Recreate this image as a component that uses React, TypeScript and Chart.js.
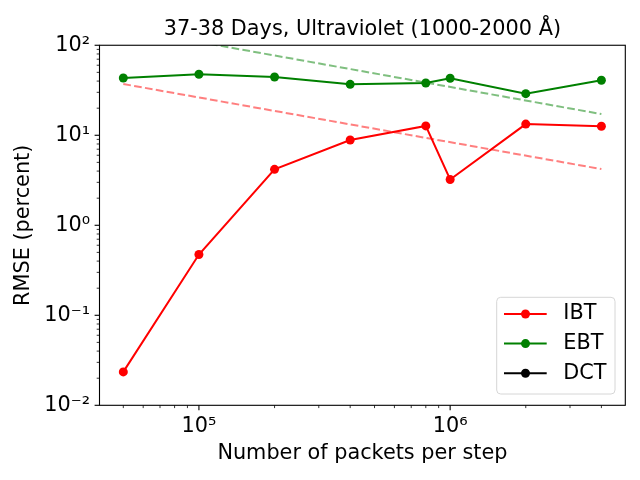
import { useEffect, useRef } from "react";
import { Chart, registerables } from "chart.js";

Chart.register(...registerables);

// packets per step (x) and RMSE in percent (y)
const packets = [5e4, 1e5, 2e5, 4e5, 8e5, 1e6, 2e6, 4e6];
const ibtValues = [0.0235, 0.473, 4.18, 8.85, 12.7, 3.23, 13.3, 12.6];
const ebtValues = [43.3, 47.6, 44.4, 36.8, 38.1, 43.0, 29.0, 40.8];
const dctValues: number[] = [];
const seriesNames = ["IBT", "EBT", "DCT"];
const seriesColors = ["#ff0000", "#008000", "#000000"];

// dashed reference lines, two end points each
const guideX = [5e4, 4e6];
const ibtGuide = [37.1, 4.21];
const ebtGuide = [154, 17.2];

const xTickPowers = [5, 6];
const yTickPowers = [-2, -1, 0, 1, 2];

const FONT = { family: "'DejaVu Sans', sans-serif", size: 20.8 };
const SUP: Record<string, string> = {
  "-": "⁻", "0": "⁰", "1": "¹", "2": "²", "3": "³", "4": "⁴",
  "5": "⁵", "6": "⁶", "7": "⁷", "8": "⁸", "9": "⁹",
};

function powerLabel(v: number, powers: number[]) {
  const p = Math.round(Math.log10(v));
  if (Math.abs(Math.log10(v) - p) > 1e-6 || !powers.includes(p)) return "";
  return "10" + String(p).split("").map((c) => SUP[c]).join("");
}

const pts = (xs: number[], ys: number[]) => ys.map((y, i) => ({ x: xs[i], y }));

const decor = {
  id: "decor",
  afterDraw(chart: any) {
    const { ctx, chartArea: a } = chart;
    ctx.save();
    ctx.strokeStyle = "#000";
    // tick marks, major and minor
    const marks = (scale: any, horiz: boolean) => {
      const lo = Math.floor(Math.log10(scale.min));
      const hi = Math.ceil(Math.log10(scale.max));
      for (let e = lo; e <= hi; e++) {
        for (let k = 1; k <= 9; k++) {
          const v = k * Math.pow(10, e);
          if (v < scale.min * 0.9999 || v > scale.max * 1.0001) continue;
          const p = scale.getPixelForValue(v);
          const len = k === 1 ? 4.9 : 2.8;
          ctx.lineWidth = k === 1 ? 1.1 : 0.8;
          ctx.beginPath();
          if (horiz) {
            ctx.moveTo(p, a.bottom);
            ctx.lineTo(p, a.bottom + len);
          } else {
            ctx.moveTo(a.left, p);
            ctx.lineTo(a.left - len, p);
          }
          ctx.stroke();
        }
      }
    };
    marks(chart.scales.x, true);
    marks(chart.scales.y, false);
    ctx.lineWidth = 1.1;
    ctx.strokeRect(a.left, a.top, a.right - a.left, a.bottom - a.top);

    // legend box, lower right inside the axes
    const w = 118.3, h = 96.7;
    const bx = a.right - 10.3 - w, by = a.bottom - 11.3 - h;
    ctx.beginPath();
    ctx.roundRect(bx, by, w, h, 4);
    ctx.fillStyle = "rgba(255,255,255,0.8)";
    ctx.fill();
    ctx.strokeStyle = "#d6d6d6";
    ctx.lineWidth = 1;
    ctx.stroke();
    ctx.font = `${FONT.size}px ${FONT.family}`;
    ctx.textBaseline = "middle";
    ctx.textAlign = "left";
    chart.data.datasets
      .filter((d: any) => seriesNames.includes(d.label))
      .forEach((d: any, i: number) => {
        const y = by + 16.7 + i * 29.6;
        ctx.strokeStyle = d.borderColor;
        ctx.lineWidth = 2;
        ctx.beginPath();
        ctx.moveTo(bx + 7.3, y);
        ctx.lineTo(bx + 50, y);
        ctx.stroke();
        ctx.fillStyle = d.borderColor;
        ctx.beginPath();
        ctx.arc(bx + 28.8, y, 4.5, 0, Math.PI * 2);
        ctx.fill();
        ctx.fillStyle = "#000";
        ctx.fillText(d.label, bx + 66.6, y);
      });
    ctx.restore();
  },
};

export default function App() {
  const canvasRef = useRef<HTMLCanvasElement | null>(null);
  const chartRef = useRef<Chart | null>(null);

  useEffect(() => {
    if (chartRef.current) chartRef.current.destroy();
    const seriesData = [ibtValues, ebtValues, dctValues];

    chartRef.current = new Chart(canvasRef.current!, {
      type: "line",
      data: {
        datasets: [
          ...seriesNames.map((name, i) => ({
            label: name,
            data: pts(packets, seriesData[i]),
            borderColor: seriesColors[i],
            backgroundColor: seriesColors[i],
            borderWidth: 2,
            pointRadius: 4.5,
            pointBorderWidth: 0,
            order: i,
          })),
          {
            label: "IBT guide",
            data: pts(guideX, ibtGuide),
            borderColor: "rgba(255,0,0,0.5)",
            borderWidth: 2,
            borderDash: [7.7, 3.3],
            pointRadius: 0,
            order: 5,
          },
          {
            label: "EBT guide",
            data: pts(guideX, ebtGuide),
            borderColor: "rgba(0,128,0,0.5)",
            borderWidth: 2,
            borderDash: [7.7, 3.3],
            pointRadius: 0,
            order: 6,
          },
        ],
      },
      options: {
        responsive: false,
        animation: false,
        layout: { padding: { left: 0, right: 14.7, top: 0, bottom: 0 } },
        plugins: {
          legend: { display: false },
          tooltip: { enabled: false },
          title: {
            display: true,
            fullSize: false,
            text: "37-38 Days, Ultraviolet (1000-2000 Å)",
            color: "#000",
            font: { ...FONT, weight: "normal" },
            padding: { top: 17.6, bottom: 2.7 },
          },
        },
        scales: {
          x: {
            type: "logarithmic",
            min: 40200,
            max: 4.98e6,
            grid: { display: false, drawTicks: false },
            border: { display: false },
            ticks: {
              autoSkip: false,
              maxRotation: 0,
              padding: 9,
              color: "#000",
              font: FONT,
              callback: (v: any) => powerLabel(Number(v), xTickPowers),
            },
            title: {
              display: true,
              text: "Number of packets per step",
              color: "#000",
              font: FONT,
              padding: { top: 0, bottom: 14 },
            },
            afterFit: (s: any) => {
              s.height = 74.7;
            },
          },
          y: {
            type: "logarithmic",
            min: 0.01,
            max: 100,
            grid: { display: false, drawTicks: false },
            border: { display: false },
            ticks: {
              autoSkip: false,
              padding: 9.5,
              color: "#000",
              font: FONT,
              callback: (v: any) => powerLabel(Number(v), yTickPowers),
            },
            title: {
              display: true,
              text: "RMSE (percent)",
              color: "#000",
              font: FONT,
              padding: { top: 11, bottom: 0 },
            },
            afterFit: (s: any) => {
              s.width = 99.5;
            },
          },
        },
      },
      plugins: [decor],
    } as any);

    return () => {
      if (chartRef.current) {
        chartRef.current.destroy();
        chartRef.current = null;
      }
    };
  }, []);

  return (
    <div style={{ position: "fixed", left: 0, top: 0, width: 640, height: 480, background: "#fff" }}>
      <canvas ref={canvasRef} width={640} height={480} />
    </div>
  );
}
